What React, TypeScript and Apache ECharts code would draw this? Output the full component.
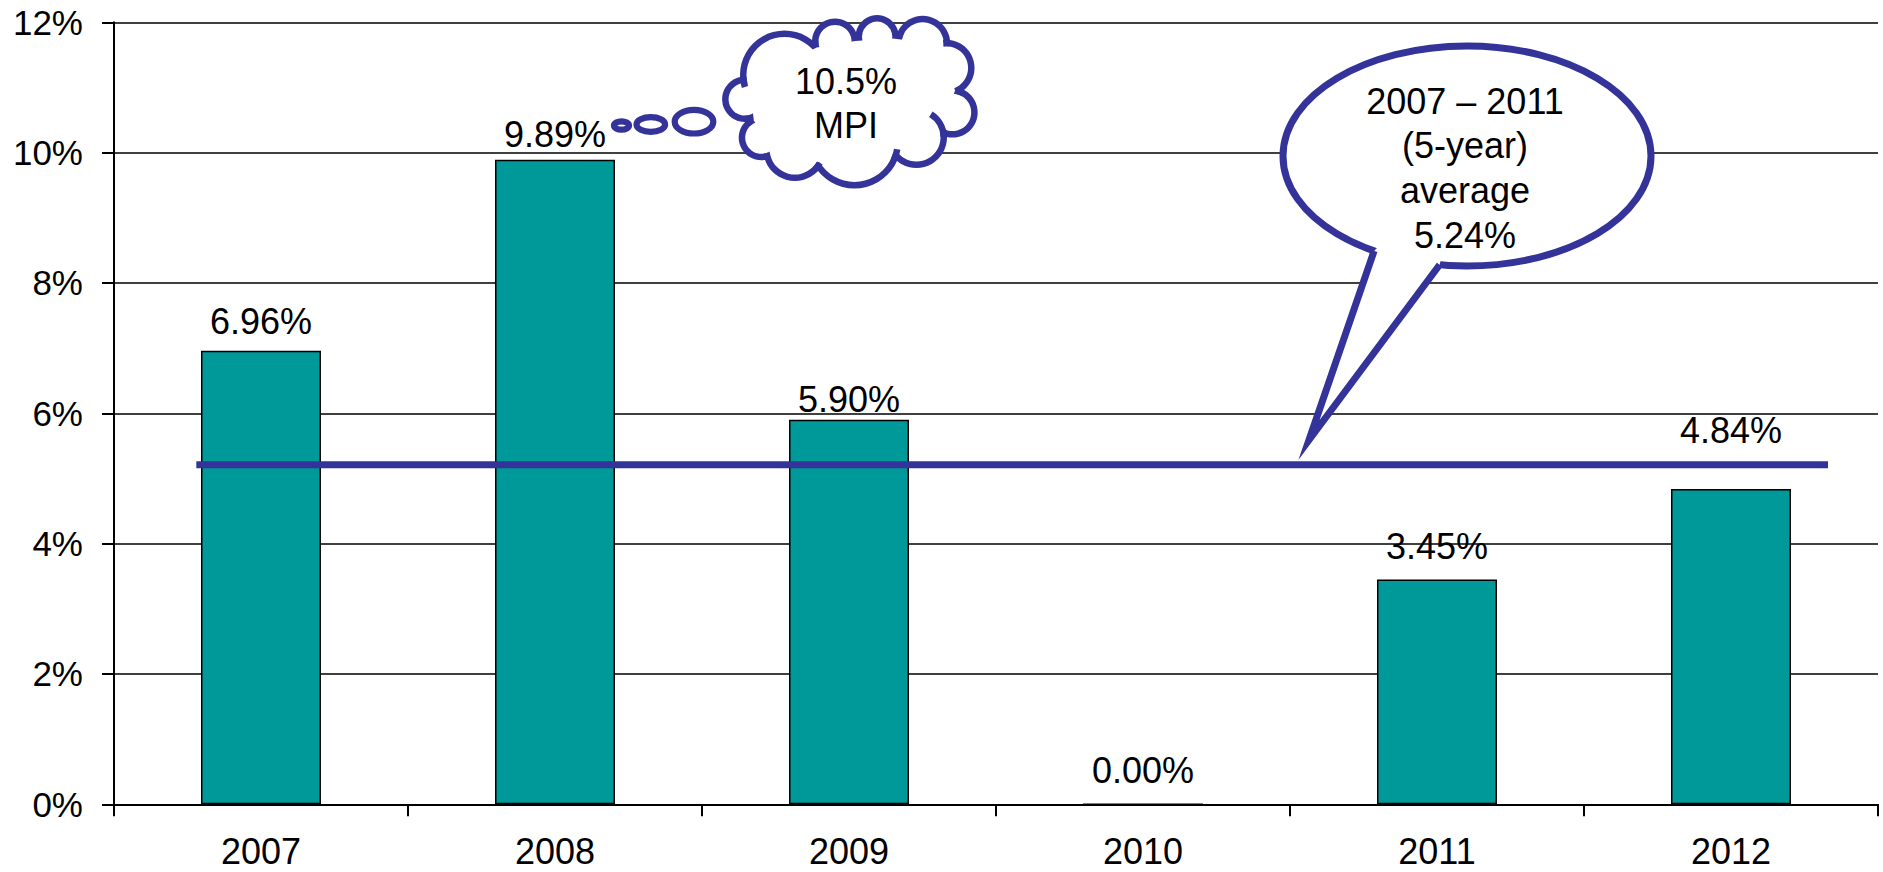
import React, { useEffect, useRef } from "react";
import * as echarts from "echarts";

// ---------- data ----------
const categories = ["2007", "2008", "2009", "2010", "2011", "2012"];
const rates = [6.96, 9.89, 5.9, 0.0, 3.45, 4.84];
const yMin = 0;
const yMax = 12;
const yStep = 2;
const averageValue = 5.21; // where the drawn average line sits in the picture
// start / end of the average line, in category units along the x axis
const averageSpan = [0.28, 5.83];
const cloudLines = ["10.5%", "MPI"];
const bubbleLines = ["2007 \u2013 2011", "(5-year)", "average", "5.24%"];

// ---------- style ----------
const FONT = '"Liberation Sans", Arial, Helvetica, sans-serif';
const BLUE = "#333399";
const TEAL = "#009999";
const labelGaps = [11, 7.6, 2, 15, 15, 40];

type P = [number, number];

// circle through chord a-b bulging outward (clockwise traversal, screen coords) with sagitta ratio s
function puff(a: P, b: P, s: number) {
  const dx = b[0] - a[0], dy = b[1] - a[1];
  const c = Math.hypot(dx, dy);
  const sag = s * c;
  const r = (c * c / 4 + sag * sag) / (2 * sag);
  const nx = dy / c, ny = -dx / c;
  const mx = (a[0] + b[0]) / 2, my = (a[1] + b[1]) / 2;
  return { x: mx - (r - sag) * nx, y: my - (r - sag) * ny, r };
}

function buildGraphics() {
  const els: any[] = [];
  const Z = 100;

  // ----- thought cloud -----
  const ccx = 850, ccy = 100;
  const notches: P[] = [
    [740, 77], [812, 40], [856, 32], [898, 31], [950, 40],
    [964, 90], [947, 137], [897, 161], [818, 171], [765, 160], [745, 122],
  ];
  const bulge = [0.45, 0.32, 0.39, 0.39, 0.37, 0.33, 0.44, 0.32, 0.28, 0.28, 0.36];
  const n = notches.length;
  const circles = bulge.map((s, k) => puff(notches[(k - 1 + n) % n], notches[k], s));
  const lw = 6.5;
  circles.forEach((c) =>
    els.push({ type: "circle", z: Z, silent: true, shape: { cx: c.x, cy: c.y, r: c.r }, style: { fill: BLUE } })
  );
  circles.forEach((c) =>
    els.push({ type: "circle", z: Z, silent: true, shape: { cx: c.x, cy: c.y, r: c.r - lw }, style: { fill: "#fff" } })
  );
  const inset = notches.map((p): P => {
    const dx = p[0] - ccx, dy = p[1] - ccy;
    const d = Math.hypot(dx, dy);
    const k = (d - 9) / d;
    return [ccx + dx * k, ccy + dy * k];
  });
  els.push({ type: "polygon", z: Z, silent: true, shape: { points: inset }, style: { fill: "#fff" } });
  // curls: continuation of the following puff into the preceding one
  circles.forEach((c, k) => {
    const nt = notches[(k - 1 + n) % n];
    const a = Math.atan2(nt[1] - c.y, nt[0] - c.x);
    const d = k === 7 ? 1.0 : 0.25;
    els.push({
      type: "arc", z: Z, silent: true,
      shape: { cx: c.x, cy: c.y, r: c.r - lw / 2, startAngle: a - d, endAngle: a, clockwise: true },
      style: { stroke: BLUE, lineWidth: lw, fill: null },
    });
  });
  // small thought bubbles
  const dots = [
    { cx: 621.5, cy: 125.5, rx: 7.5, ry: 4.2 },
    { cx: 650.8, cy: 124.5, rx: 14.3, ry: 7.3 },
    { cx: 694, cy: 121.7, rx: 19.3, ry: 11.8 },
  ];
  dots.forEach((d) =>
    els.push({ type: "ellipse", z: Z, silent: true, shape: d, style: { fill: "#fff", stroke: BLUE, lineWidth: 6.2 } })
  );
  const cloudY = [81, 125];
  cloudLines.forEach((t, i) =>
    els.push({
      type: "text", z: Z + 1, silent: true,
      style: { text: t, x: 846, y: cloudY[i], fill: "#000", font: `36px ${FONT}`, textAlign: "center", textVerticalAlign: "middle", verticalAlign: "middle" },
    })
  );

  // ----- speech bubble -----
  const cx = 1467, cy = 156, rx = 184, ry = 110, blw = 7;
  const th1 = 2.1, th2 = 1.72;
  const ep = (th: number, s = 1): P => [cx + s * rx * Math.cos(th), cy + s * ry * Math.sin(th)];
  const b1 = ep(th1), b2 = ep(th2);
  const tip: P = [1309, 440];
  els.push({ type: "ellipse", z: Z, silent: true, shape: { cx, cy, rx, ry }, style: { fill: "#fff", stroke: BLUE, lineWidth: blw } });
  els.push({ type: "polygon", z: Z, silent: true, shape: { points: [ep(th1, 0.88), b1, tip, b2, ep(th2, 0.88)] }, style: { fill: "#fff" } });
  els.push({
    type: "polyline", z: Z, silent: true, shape: { points: [b1, tip, b2] },
    style: { stroke: BLUE, lineWidth: blw, fill: null, lineJoin: "miter", miterLimit: 20 },
  });
  bubbleLines.forEach((t, i) =>
    els.push({
      type: "text", z: Z + 1, silent: true,
      style: { text: t, x: 1465, y: 101 + 44.7 * i, fill: "#000", font: `36px ${FONT}`, textAlign: "center", textVerticalAlign: "middle", verticalAlign: "middle" },
    })
  );
  return els;
}

export default function App() {
  const ref = useRef<HTMLDivElement>(null);
  useEffect(() => {
    const chart = echarts.init(ref.current!, null, { renderer: "svg" });
    chart.setOption({
      animation: false,
      backgroundColor: "#fff",
      grid: { left: 114, right: 5, top: 22.3, bottom: 67.7, containLabel: false },
      xAxis: [
        {
          type: "category",
          data: categories,
          boundaryGap: true,
          axisLine: { show: true, lineStyle: { color: "#000", width: 2 } },
          axisTick: { show: true, inside: false, length: 12, interval: 0, lineStyle: { color: "#000", width: 2 } },
          axisLabel: { margin: 32, fontSize: 36, lineHeight: 30, fontFamily: FONT, color: "#000", interval: 0 },
          splitLine: { show: false },
        },
        { type: "value", min: 0, max: categories.length, show: false },
      ],
      yAxis: {
        type: "value",
        min: yMin,
        max: yMax,
        interval: yStep,
        axisLine: { show: true, onZero: false, lineStyle: { color: "#000", width: 2 } },
        axisTick: { show: true, length: 12, lineStyle: { color: "#000", width: 2 } },
        axisLabel: { margin: 31, fontSize: 35, fontFamily: FONT, color: "#000", formatter: "{value}%" },
        splitLine: { show: true, lineStyle: { color: "#000", width: 1.5 } },
      },
      series: [
        {
          type: "bar",
          xAxisIndex: 0,
          data: rates.map((v, i) => ({ value: v, label: { distance: labelGaps[i] } })),
          barWidth: 120,
          itemStyle: { color: TEAL, borderColor: "#000", borderWidth: 1.5 },
          label: {
            show: true,
            position: "top",
            fontSize: 36,
            fontFamily: FONT,
            color: "#000",
            formatter: (p: any) => Number(p.value).toFixed(2) + "%",
          },
          z: 2,
        },
        {
          type: "line",
          xAxisIndex: 1,
          data: [
            [averageSpan[0], averageValue],
            [averageSpan[1], averageValue],
          ],
          symbol: "none",
          lineStyle: { color: BLUE, width: 7 },
          silent: true,
          z: 3,
        },
      ],
      graphic: buildGraphics(),
    });
    return () => chart.dispose();
  }, []);
  return (
    <div
      ref={ref}
      style={{ position: "absolute", left: 0, top: 0, width: 1883, height: 872, background: "#fff" }}
    />
  );
}
